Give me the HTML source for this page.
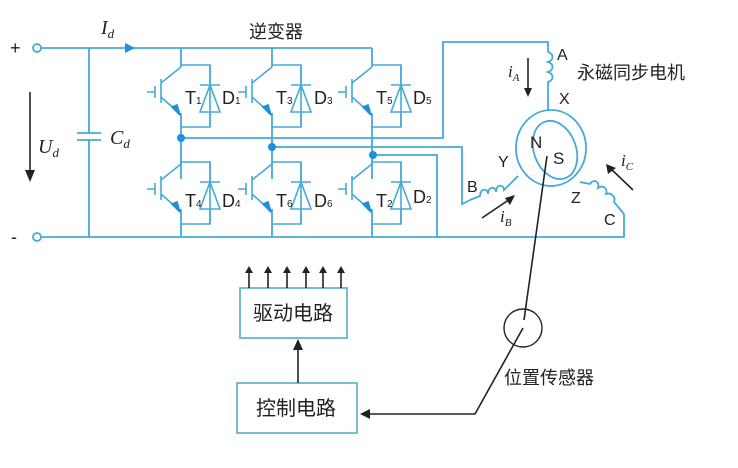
<!DOCTYPE html>
<html><head><meta charset="utf-8"><style>
html,body{margin:0;padding:0;background:#fff;}
svg{display:block;}
text{font-family:"Liberation Sans","Noto Sans CJK SC",sans-serif;}
.it{font-family:"Liberation Serif",serif;font-style:italic;}
</style></head><body>
<svg width="738" height="468" viewBox="0 0 738 468" xmlns="http://www.w3.org/2000/svg">
<defs>
<g id="sw" fill="none" stroke="#46a9d8" stroke-width="1.6">
  <path d="M0,2 L-20,18 M-20,14 V38 M-26,21 V33 M-34,27 H-26 M-20,32 L-3,47"/>
  <path d="M0,0 H29 V62 H0"/>
  <path d="M19,20 H39 M29,20 L19,47 H39 Z M29,0 V20 M29,47 V62"/>
  <polygon points="-1,50 -9,42 -4,40" fill="#1e8fdc" stroke="#1e8fdc"/>
</g>
</defs>
<g fill="none" stroke="#46a9d8" stroke-width="1.8">
  <path d="M41,48 H372"/>
  <path d="M41,237 H440"/>
  <circle cx="37" cy="48" r="4" fill="#fff"/>
  <circle cx="37" cy="237" r="4" fill="#fff"/>
  <path d="M89,48 V133 M89,140 V237 M77,133 H101 M77,140 H101"/>
  <path d="M181,48 V67 M181,113 V179 M181,209 V237"/>
  <path d="M272,48 V67 M272,113 V179 M272,209 V237"/>
  <path d="M372,48 V67 M372,113 V179 M372,209 V237"/>
  <path d="M181,138 H443 V42 H548 V52"/>
  <path d="M272,147 H462 V204 L470,200"/>
  <path d="M372,155 H437 V237 H624 V214"/>
  <path d="M548,52 c6,2 6,8 0,10 c6,2 6,8 0,10 c6,2 6,8 0,10 V110"/>
  <path d="M470,200 L480,196 c0,-8 8,-8 8,-2 c0,-8 8,-8 8,-2 c0,-8 8,-8 8,-2 L518,176"/>
  <path d="M580,182 L590,184 c4,-6 10,-2 8,4 c6,-4 10,2 8,6 c6,-2 10,4 8,8 L624,214"/>
  <ellipse cx="551" cy="148" rx="35" ry="38"/>
  <ellipse cx="555" cy="150" rx="21" ry="30" transform="rotate(-20 555 150)"/>
  <rect x="240" y="288" width="107" height="50" stroke="#6db3cf" fill="#fff"/>
  <rect x="237" y="383" width="120" height="50" stroke="#6db3cf" fill="#fff"/>
</g>
<use href="#sw" x="181" y="65"/>
<use href="#sw" x="272" y="65"/>
<use href="#sw" x="372" y="65"/>
<use href="#sw" x="181" y="162"/>
<use href="#sw" x="272" y="162"/>
<use href="#sw" x="372" y="162"/>
<g fill="#1e8fdc"><circle cx="181" cy="138" r="4"/><circle cx="272" cy="147" r="4"/><circle cx="373" cy="155" r="4"/>
<polygon points="125,43 135,48 125,53"/></g>
<g stroke="#222" stroke-width="1.6" fill="none">
  <path d="M30,92 V172"/>
  <path d="M528,58 V88"/>
  <path d="M482,218 L510,199"/>
  <path d="M633,190 L610,168"/>
  <path d="M547,156 L524,320 M523,328 L475,414 H368"/>
  <circle cx="523" cy="328" r="19" fill="none" stroke-width="1.4"/>
  <path d="M298,383 V350"/>
  <path d="M249,288 V272 M268,288 V272 M287,288 V272 M306,288 V272 M323,288 V272 M341,288 V272"/>
</g>
<g fill="#222">
  <polygon points="25,170 35,170 30,182"/>
  <polygon points="524,88 532,88 528,97"/>
  <polygon points="505,198 515,195 510,205"/>
  <polygon points="606,164 616,168 608,174"/>
  <polygon points="360,414 370,409 370,419"/>
  <polygon points="293,350 303,350 298,339"/>
  <polygon points="245,273 253,273 249,266"/><polygon points="264,273 272,273 268,266"/><polygon points="283,273 291,273 287,266"/>
  <polygon points="302,273 310,273 306,266"/><polygon points="319,273 327,273 323,266"/><polygon points="337,273 345,273 341,266"/>
</g>
<g fill="#222" font-size="16">
  <text x="10" y="54" font-size="18">+</text>
  <text x="11" y="243" font-size="18">-</text>
  <text class="it" x="101" y="34" font-size="20">I<tspan font-size="13" dy="4">d</tspan></text>
  <text class="it" x="110" y="144" font-size="20">C<tspan font-size="13" dy="4">d</tspan></text>
  <text class="it" x="38" y="153" font-size="20">U<tspan font-size="13" dy="4">d</tspan></text>
  <text x="249" y="38" font-size="18">逆变器</text>
  <text x="185" y="104" font-size="18">T<tspan font-size="10">1</tspan></text>
  <text x="222" y="104" font-size="18">D<tspan font-size="10">1</tspan></text>
  <text x="276" y="104" font-size="18">T<tspan font-size="10">3</tspan></text>
  <text x="314" y="104" font-size="18">D<tspan font-size="10">3</tspan></text>
  <text x="376" y="104" font-size="18">T<tspan font-size="10">5</tspan></text>
  <text x="413" y="104" font-size="18">D<tspan font-size="10">5</tspan></text>
  <text x="185" y="207" font-size="18">T<tspan font-size="10">4</tspan></text>
  <text x="222" y="207" font-size="18">D<tspan font-size="10">4</tspan></text>
  <text x="276" y="207" font-size="18">T<tspan font-size="10">6</tspan></text>
  <text x="314" y="207" font-size="18">D<tspan font-size="10">6</tspan></text>
  <text x="376" y="207" font-size="18">T<tspan font-size="10">2</tspan></text>
  <text x="413" y="203" font-size="18">D<tspan font-size="10">2</tspan></text>
  <text x="557" y="60">A</text>
  <text x="559" y="104">X</text>
  <text x="577" y="79" font-size="18">永磁同步电机</text>
  <text class="it" x="508" y="77" font-size="17">i<tspan font-size="11" dy="4">A</tspan></text>
  <text x="530" y="148" font-size="17">N</text>
  <text x="553" y="164" font-size="17">S</text>
  <text x="498" y="167">Y</text>
  <text x="467" y="192">B</text>
  <text x="571" y="203">Z</text>
  <text x="604" y="225">C</text>
  <text class="it" x="500" y="222" font-size="17">i<tspan font-size="11" dy="4">B</tspan></text>
  <text class="it" x="621" y="166" font-size="17">i<tspan font-size="11" dy="4">C</tspan></text>
  <text x="504" y="384" font-size="18">位置传感器</text>
  <text x="253" y="320" font-size="20">驱动电路</text>
  <text x="256" y="415" font-size="20">控制电路</text>
</g>
</svg>
</body></html>
